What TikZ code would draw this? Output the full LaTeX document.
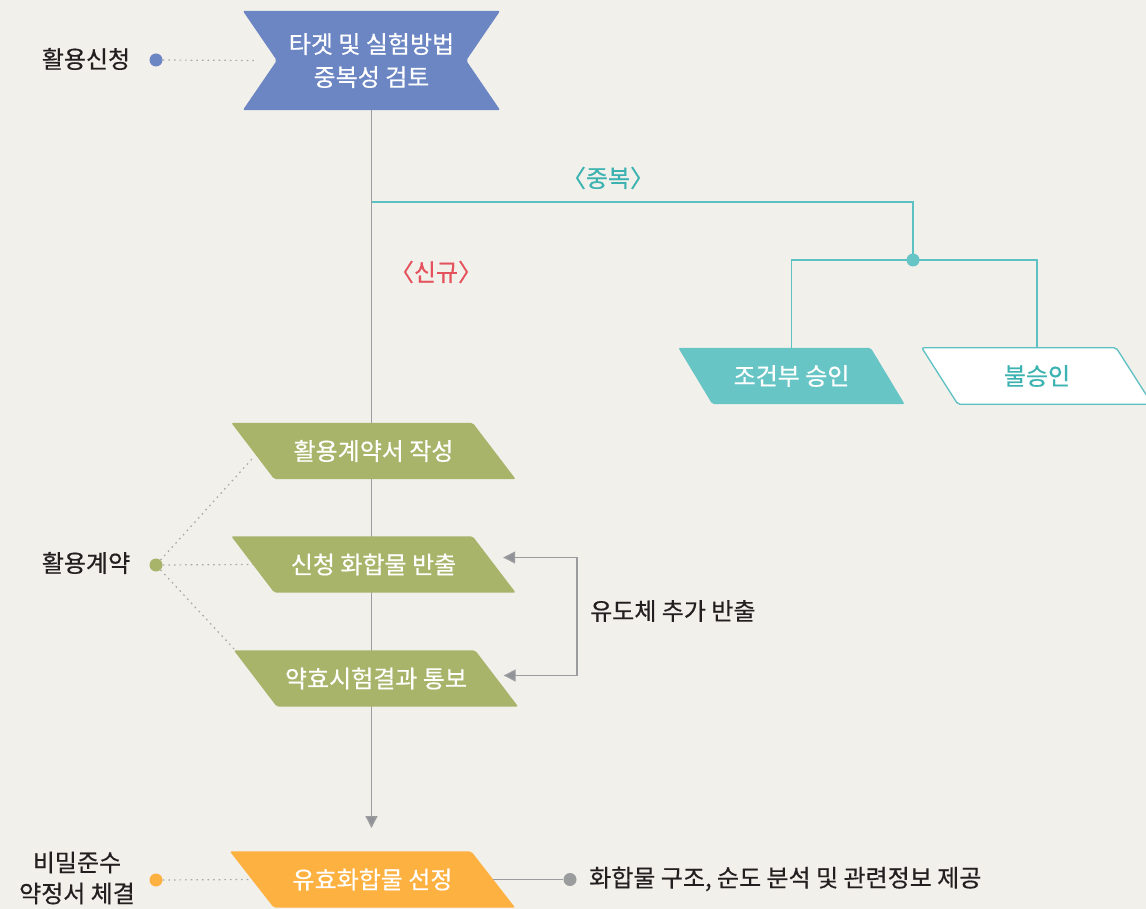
\documentclass[tikz,border=0pt]{standalone}
\usepackage{fontspec}
\setmainfont{Noto Sans CJK KR}[RawFeature={embolden=0.5}]
\usetikzlibrary{arrows.meta}
\definecolor{bgc}{HTML}{F2F0EB}
\definecolor{cblue}{HTML}{6B86C3}
\definecolor{cteal}{HTML}{68C5C6}
\definecolor{ctealline}{HTML}{5DC0C2}
\definecolor{ctealtext}{HTML}{3DB3B1}
\definecolor{cgreen}{HTML}{A8B46A}
\definecolor{corange}{HTML}{FDB140}
\definecolor{cgray}{HTML}{9B9C9E}
\definecolor{carrow}{HTML}{8F9297}
\definecolor{cdot}{HTML}{A8A8A8}
\definecolor{cdark}{HTML}{231F20}
\definecolor{cred}{HTML}{E4525D}
\pgfdeclarelayer{back}\pgfdeclarelayer{mid}\pgfsetlayers{back,mid,main}
\newcommand\mypara[3]{\path[#3, rounded corners=2pt] ([xshift=-#2]#1.north west) -- ([xshift=-#2]#1.north east) -- ([xshift=#2]#1.south east) -- ([xshift=#2]#1.south west) -- cycle;}
\begin{document}
\begin{tikzpicture}[x=1pt,y=-1pt,
  txt/.style={font=\fontsize{24}{28}\selectfont, inner sep=0pt, text=cdark},
  box/.style={txt, text=white, minimum height=56pt, minimum width=241pt},
  dot/.style={circle, inner sep=0pt, minimum size=13pt},
  gline/.style={draw=cgray, line width=1.4pt},
  tline/.style={draw=ctealline, line width=1.3pt},
  dline/.style={draw=cdot, line width=1.2pt, dash pattern=on 1.6pt off 4pt},
  tip/.style={-{Triangle[length=12pt,width=12pt,fill=carrow]}},
  tips/.style={{Triangle[length=12pt,width=12pt,fill=carrow]}-{Triangle[length=12pt,width=12pt,fill=carrow]}}
]
\useasboundingbox (0,0) rectangle (1146,909);
% nodes
\node[box, minimum width=257pt, minimum height=99pt, align=center, font=\fontsize{24}{33}\selectfont] (top) at (371.5,60.5) {타겟 및 실험방법\\중복성 검토};
\node[box] (n1) at (373.5,451) {활용계약서 작성};
\node[box] (n2) at (373.5,564.5) {신청 화합물 반출};
\node[box] (n3) at (376,678.5) {약효시험결과 통보};
\node[box] (res) at (372.5,879.5) {유효화합물 선정};
\node[box, minimum width=192pt] (cond) at (791.5,376) {조건부 승인};
\node[box, minimum width=194pt, text=ctealtext] (rej) at (1037,376) {불승인};

\node[txt] (l1) at (86,59) {활용신청};
\node[txt] (l2) at (86,563) {활용계약};
\node[txt, align=center, font=\fontsize{24}{31}\selectfont] (l3) at (77,878) {비밀준수\\약정서 체결};
\node[txt, anchor=west] (l4) at (590,611) {유도체 추가 반출};
\node[txt, anchor=west] (l5) at (589,879) {화합물 구조, 순도 분석 및 관련정보 제공};
\node[txt, text=ctealtext] (dup) at (608,178) {〈중복〉};
\node[txt, text=cred] (new) at (436,272) {〈신규〉};

\node[dot, fill=cblue] (d1) at (156,60) {};
\node[dot, fill=cgreen] (d2) at (156,565) {};
\node[dot, fill=corange] (d3) at (156,880) {};
\node[dot, fill=cgray] (d4) at (570,879.5) {};
\node[dot, fill=cteal, minimum size=13pt] (jn) at (913,260) {};

\coordinate (br) at (371.5,202);
\coordinate (aend) at (371.5,828);
\coordinate (lp) at (577,616);

\begin{pgfonlayer}{back}
\fill[bgc] (0,0) rectangle (1146,909);
\draw[gline, tip] (top.south) -- (aend);
\end{pgfonlayer}

\begin{pgfonlayer}{mid}
\fill[cblue, rounded corners=2pt] (top.north west) -- (top.north east) -- ([xshift=-34pt]top.east) -- (top.south east) -- (top.south west) -- ([xshift=34pt]top.west) -- cycle;
\mypara{n1}{21.5pt}{fill=cgreen}
\mypara{n2}{21.5pt}{fill=cgreen}
\mypara{n3}{21.5pt}{fill=cgreen}
\mypara{res}{22pt}{fill=corange}
\mypara{cond}{17pt}{fill=cteal}
\mypara{rej}{18pt}{fill=white, draw=ctealline, line width=1.3pt}
\draw[tline] (br) -| (jn.center);
\draw[tline] (cond.north) |- (jn.center) -| (rej.north);
\draw[dline] (d1) -- ([xshift=14pt]top.west);
\draw[dline] (d2) -- ([xshift=1pt,yshift=-6pt]n1.west);
\draw[dline] (d2) -- (n2.west);
\draw[dline] (d2) -- ([xshift=-20pt]n3.north west);
\draw[dline] (d3) -- (res.west);
\draw[gline] (res.east) -- (d4);
\draw[gline, tips] ([xshift=9pt,yshift=7pt]n2.east) -| (lp) |- ([xshift=7pt,yshift=3pt]n3.east);
\end{pgfonlayer}
\end{tikzpicture}
\end{document}
